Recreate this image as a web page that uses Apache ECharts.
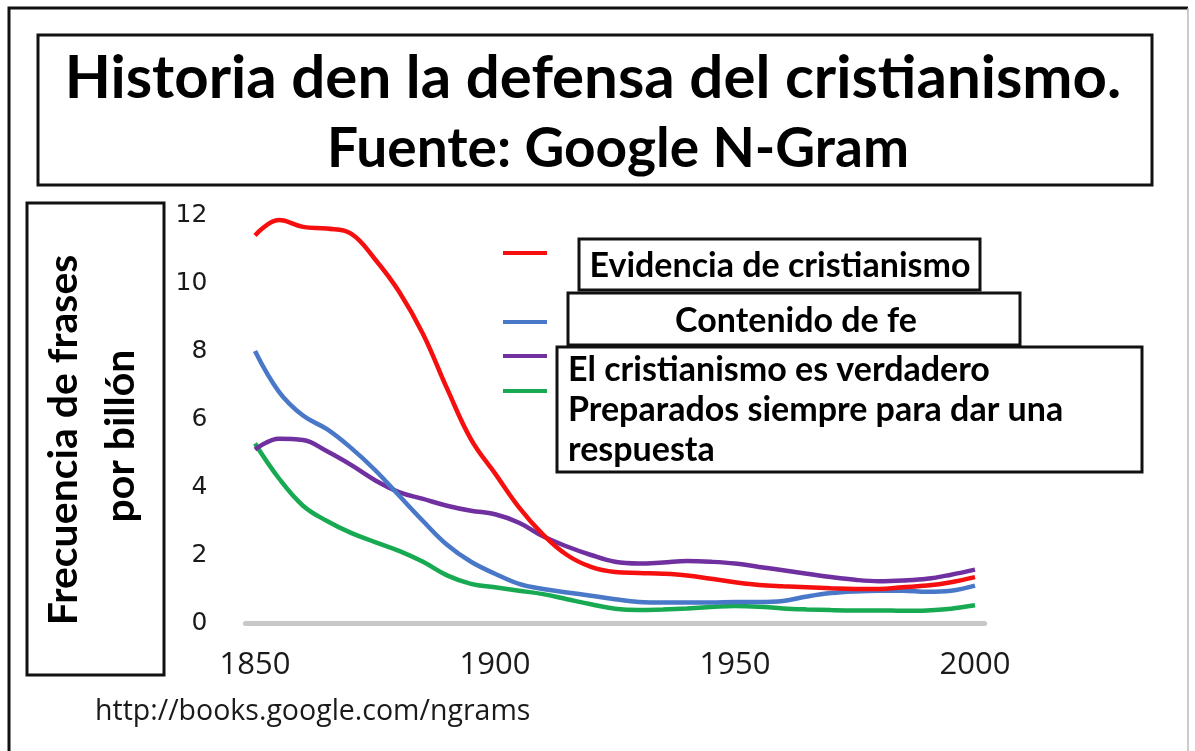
<!DOCTYPE html>
<html>
<head>
<meta charset="utf-8">
<script src="https://cdn.jsdelivr.net/npm/echarts@6.0.0/dist/echarts.min.js"></script>
<style>
    html, body { margin: 0; padding: 0; background: #ffffff; }
    #chart { width: 1195px; height: 751px; }
</style>
</head>
<body>
<div id="chart"></div>
<script>
const years = [1850, 1855, 1860, 1865, 1870, 1875, 1880, 1885, 1890, 1895, 1900, 1905, 1910, 1915, 1920, 1925,
    1930, 1935, 1940, 1945, 1950, 1955, 1960, 1965, 1970, 1975, 1980, 1985, 1990, 1995, 2000];
const evidencia = [11.4, 11.85, 11.65, 11.6, 11.45, 10.7, 9.75, 8.5, 6.9, 5.4, 4.4, 3.4, 2.6, 2.0, 1.65, 1.5,
    1.47, 1.45, 1.4, 1.3, 1.2, 1.12, 1.08, 1.05, 1.02, 1.0, 1.0, 1.05, 1.1, 1.2, 1.35];
const contenido = [8.0, 6.8, 6.1, 5.7, 5.15, 4.5, 3.75, 3.0, 2.3, 1.8, 1.45, 1.15, 1.0, 0.9, 0.8, 0.7,
    0.62, 0.6, 0.6, 0.6, 0.62, 0.62, 0.65, 0.78, 0.88, 0.93, 0.95, 0.95, 0.92, 0.95, 1.1];
const verdadero = [5.1, 5.42, 5.38, 5.05, 4.65, 4.2, 3.85, 3.65, 3.45, 3.3, 3.2, 2.95, 2.55, 2.25, 2.0, 1.8,
    1.75, 1.78, 1.82, 1.8, 1.75, 1.65, 1.55, 1.45, 1.35, 1.27, 1.23, 1.25, 1.3, 1.42, 1.57];
const respuesta = [5.28, 4.25, 3.45, 3.0, 2.65, 2.38, 2.12, 1.8, 1.4, 1.15, 1.05, 0.95, 0.85, 0.7, 0.55, 0.42,
    0.38, 0.4, 0.43, 0.47, 0.5, 0.48, 0.43, 0.4, 0.38, 0.37, 0.37, 0.36, 0.37, 0.42, 0.52];

const seriesNames = [
    "Evidencia de cristianismo",
    "Contenido de fe",
    "El cristianismo es verdadero",
    "Preparados siempre para dar una respuesta",
];
const seriesColors = ["#f50f0f", "#4a78c8", "#7030a0", "#17aa52"];
const seriesValues = [evidencia, contenido, verdadero, respuesta];
const xTickLabels = [1850, 1900, 1950, 2000];
const yTickStep = 2;

const boldFont = "Lato, 'Open Sans', sans-serif";
const legendTops = [251, 320, 354, 389];

let chartElmt = document.getElementById("chart");
let chart = echarts.init(chartElmt, null, { renderer: "canvas" });

let options = {
    backgroundColor: "#ffffff",
    animation: false,
    grid: {
        left: 245.4,
        right: 210.4,
        top: 215,
        bottom: 128,
    },
    legend: seriesNames.map((name, index) => {
        return {
            data: [{ name: name, icon: "rect" }],
            left: 503,
            top: legendTops[index],
            itemWidth: 44,
            itemHeight: 4,
            selectedMode: false,
            formatter: () => "",
            padding: 0,
        };
    }),
    xAxis: {
        type: "value",
        min: 1848,
        max: 2002,
        axisLine: {
            show: true,
            lineStyle: { color: "#c8c8c8", width: 5 },
        },
        axisTick: { show: false },
        splitLine: { show: false },
        axisLabel: {
            customValues: xTickLabels,
            formatter: (value) => String(value),
            margin: 27,
            fontFamily: "'Open Sans', sans-serif",
            fontSize: 31,
            color: "#1a1a1a",
        },
    },
    yAxis: {
        type: "value",
        min: 0,
        max: 12,
        interval: yTickStep,
        axisLine: { show: false },
        axisTick: { show: false },
        splitLine: { show: false },
        axisLabel: {
            margin: 38,
            fontFamily: "'DejaVu Sans', sans-serif",
            fontSize: 25,
            color: "#1a1a1a",
        },
    },
    series: seriesNames.map((name, index) => {
        return {
            name: name,
            type: "line",
            smooth: 0.4,
            showSymbol: false,
            color: seriesColors[index],
            lineStyle: { width: 4.5, color: seriesColors[index] },
            data: years.map((year, i) => [year, seriesValues[index][i]]),
            z: 10 - index,
        };
    }),
    graphic: [
        // outer frame
        { type: "polyline", shape: { points: [[9, 760], [9, 8], [1188, 8]] }, style: { stroke: "#111", lineWidth: 3, fill: null } },
        { type: "line", shape: { x1: 1188, y1: 8, x2: 1188, y2: 760 }, style: { stroke: "#bbb", lineWidth: 1.5 } },
        // title box
        { type: "rect", shape: { x: 38, y: 35, width: 1114, height: 150 }, style: { fill: "#fff", stroke: "#111", lineWidth: 3 } },
        { type: "text", style: { text: "Historia den la defensa del cristianismo.", x: 593, y: 79, align: "center", verticalAlign: "middle", font: `bold 60px ${boldFont}`, fill: "#000" } },
        { type: "text", style: { text: "Fuente: Google N-Gram", x: 618, y: 149, align: "center", verticalAlign: "middle", font: `bold 55px ${boldFont}`, fill: "#000" } },
        // y axis name box
        { type: "rect", shape: { x: 27, y: 203, width: 137, height: 472 }, style: { fill: "#fff", stroke: "#111", lineWidth: 3 } },
        { type: "text", x: 64, y: 440, rotation: Math.PI / 2, style: { text: "Frecuencia de frases", x: 0, y: 0, align: "center", verticalAlign: "middle", font: `bold 41px ${boldFont}`, fill: "#000" } },
        { type: "text", x: 121, y: 436, rotation: Math.PI / 2, style: { text: "por billón", x: 0, y: 0, align: "center", verticalAlign: "middle", font: `bold 41px ${boldFont}`, fill: "#000" } },
        // legend text boxes
        { type: "rect", z: 20, shape: { x: 579, y: 239, width: 401, height: 51 }, style: { fill: "#fff", stroke: "#111", lineWidth: 3 } },
        { type: "text", z: 21, style: { text: "Evidencia de cristianismo", x: 780, y: 266, align: "center", verticalAlign: "middle", font: `bold 34px ${boldFont}`, fill: "#000" } },
        { type: "rect", z: 22, shape: { x: 568, y: 293, width: 452, height: 52 }, style: { fill: "#fff", stroke: "#111", lineWidth: 3 } },
        { type: "text", z: 23, style: { text: "Contenido de fe", x: 796, y: 321, align: "center", verticalAlign: "middle", font: `bold 34px ${boldFont}`, fill: "#000" } },
        { type: "rect", z: 24, shape: { x: 557, y: 347, width: 585, height: 125 }, style: { fill: "#fff", stroke: "#111", lineWidth: 3 } },
        { type: "text", z: 25, style: { text: "El cristianismo es verdadero\nPreparados siempre para dar una\nrespuesta", x: 568, y: 350, align: "left", verticalAlign: "top", lineHeight: 40, font: `bold 34px ${boldFont}`, fill: "#000" } },
        // source
        { type: "text", style: { text: "http://books.google.com/ngrams", x: 95, y: 712, align: "left", verticalAlign: "middle", font: "28.5px 'Open Sans', sans-serif", fill: "#1a1a1a" } },
    ],
};

chart.setOption(options);

window.addEventListener("resize", () => {
    chart.resize();
});
</script>
</body>
</html>
